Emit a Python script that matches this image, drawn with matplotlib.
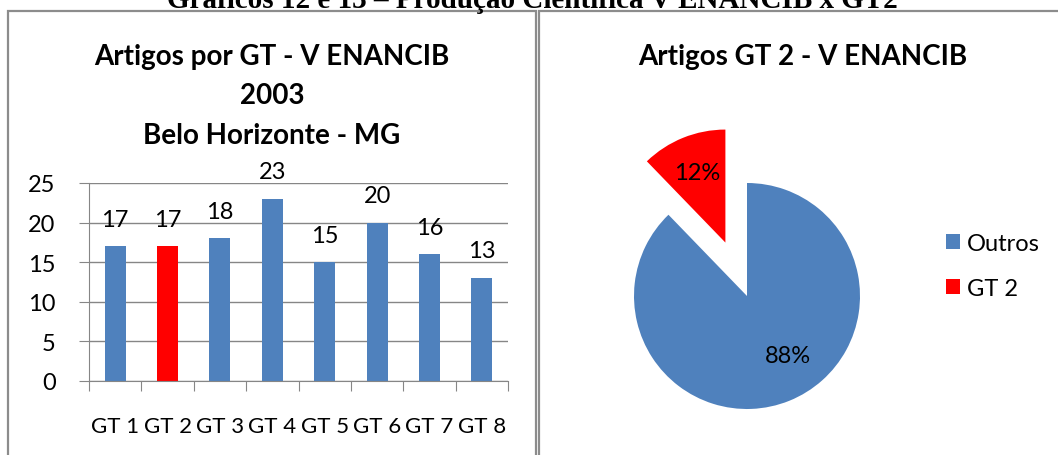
import matplotlib
matplotlib.use("Agg")
import matplotlib.pyplot as plt
from matplotlib.patches import Rectangle

# dados dos graficos 12 e 13
gts = ["GT 1", "GT 2", "GT 3", "GT 4", "GT 5", "GT 6", "GT 7", "GT 8"]
artigos = [17, 17, 18, 23, 15, 20, 16, 13]
destaque = "GT 2"
pie_labels = ["Outros", "GT 2"]
pie_values = [122, 17]

W, H = 1058, 456
AZUL = "#4F81BD"
VERMELHO = "#FF0000"
CINZA = "#868686"

plt.rcParams["font.family"] = ["Lato", "DejaVu Sans"]

fig = plt.figure(figsize=(W / 100, H / 100), dpi=100)

def fx(px):
    return px / W

def fy(py):
    return 1 - py / H

# molduras dos dois graficos
for x0, x1 in [(8, 535.5), (538.5, 1070)]:
    fig.patches.append(Rectangle((fx(x0), fy(480)), fx(x1 - x0), (480 - 12) / H,
                                 transform=fig.transFigure, fill=False,
                                 edgecolor="#8c8c8c", linewidth=1.6))

# titulo do documento (cortado no topo, como no original)
fig.text(fx(532), fy(8), "Gráficos 12 e 13 – Produção Científica V ENANCIB x GT2",
         family="Liberation Serif", weight="bold", fontsize=21,
         ha="center", va="baseline")

# ---- grafico de barras
ax = fig.add_axes([fx(89), fy(382), fx(508 - 89), (382 - 184) / H])
cores = [VERMELHO if g == destaque else AZUL for g in gts]
pos = list(range(len(gts)))
bars = ax.bar(pos, artigos, width=0.4, color=cores)
for b, v in zip(bars, artigos):
    ax.annotate(str(v), (b.get_x() + b.get_width() / 2, v), xytext=(0, 12),
                textcoords="offset points", ha="center", va="bottom", fontsize=17)
ax.set_ylim(0, 25)
ax.set_xlim(-0.5, len(gts) - 0.5)
ax.set_yticks(range(0, 26, 5))
ax.yaxis.grid(True, color=CINZA, linewidth=1)
ax.set_axisbelow(True)
ax.set_xticks([p - 0.5 for p in pos] + [len(gts) - 0.5])
ax.set_xticklabels([])
ax.set_xticks(pos, minor=True)
ax.set_xticklabels(gts, minor=True, fontsize=16)
ax.tick_params(axis="x", which="major", length=7, color=CINZA, direction="out")
ax.tick_params(axis="x", which="minor", length=0, pad=25)
ax.tick_params(axis="y", length=7, color=CINZA, pad=17, labelsize=17)
for s in ["top", "right"]:
    ax.spines[s].set_visible(False)
ax.spines["left"].set_color(CINZA)
ax.spines["bottom"].set_color(CINZA)

for txt, y in [("Artigos por GT - V ENANCIB", 57), ("2003", 96),
               ("Belo Horizonte - MG", 136)]:
    fig.text(fx(272), fy(y), txt, ha="center", va="center", fontsize=20, weight="bold")

# ---- grafico de pizza
r = 113
cx, cy = 747, 297
ax2 = fig.add_axes([fx(cx - 1.5 * r), fy(cy + 1.5 * r), fx(3 * r), 3 * r / H])
wedges, _, autotexts = ax2.pie(pie_values, colors=[AZUL, VERMELHO], startangle=90,
                               counterclock=False, explode=[0, 0.51],
                               autopct="%1.0f%%", pctdistance=0.67,
                               textprops={"fontsize": 17})
autotexts[0].set_position((0.36, -0.53))
ax2.set_xlim(-1.5, 1.5)
ax2.set_ylim(-1.5, 1.5)
ax2.set_aspect("equal")

fig.text(fx(803), fy(57), "Artigos GT 2 - V ENANCIB", ha="center", va="center",
         fontsize=20, weight="bold")

fig.legend(wedges, pie_labels, loc="upper left", bbox_to_anchor=(fx(946), fy(234)),
           frameon=False, fontsize=17, handlelength=0.6, handleheight=0.6,
           handletextpad=0.3, labelspacing=1.0, borderpad=0, borderaxespad=0)

fig.savefig("out.png", dpi=100)
